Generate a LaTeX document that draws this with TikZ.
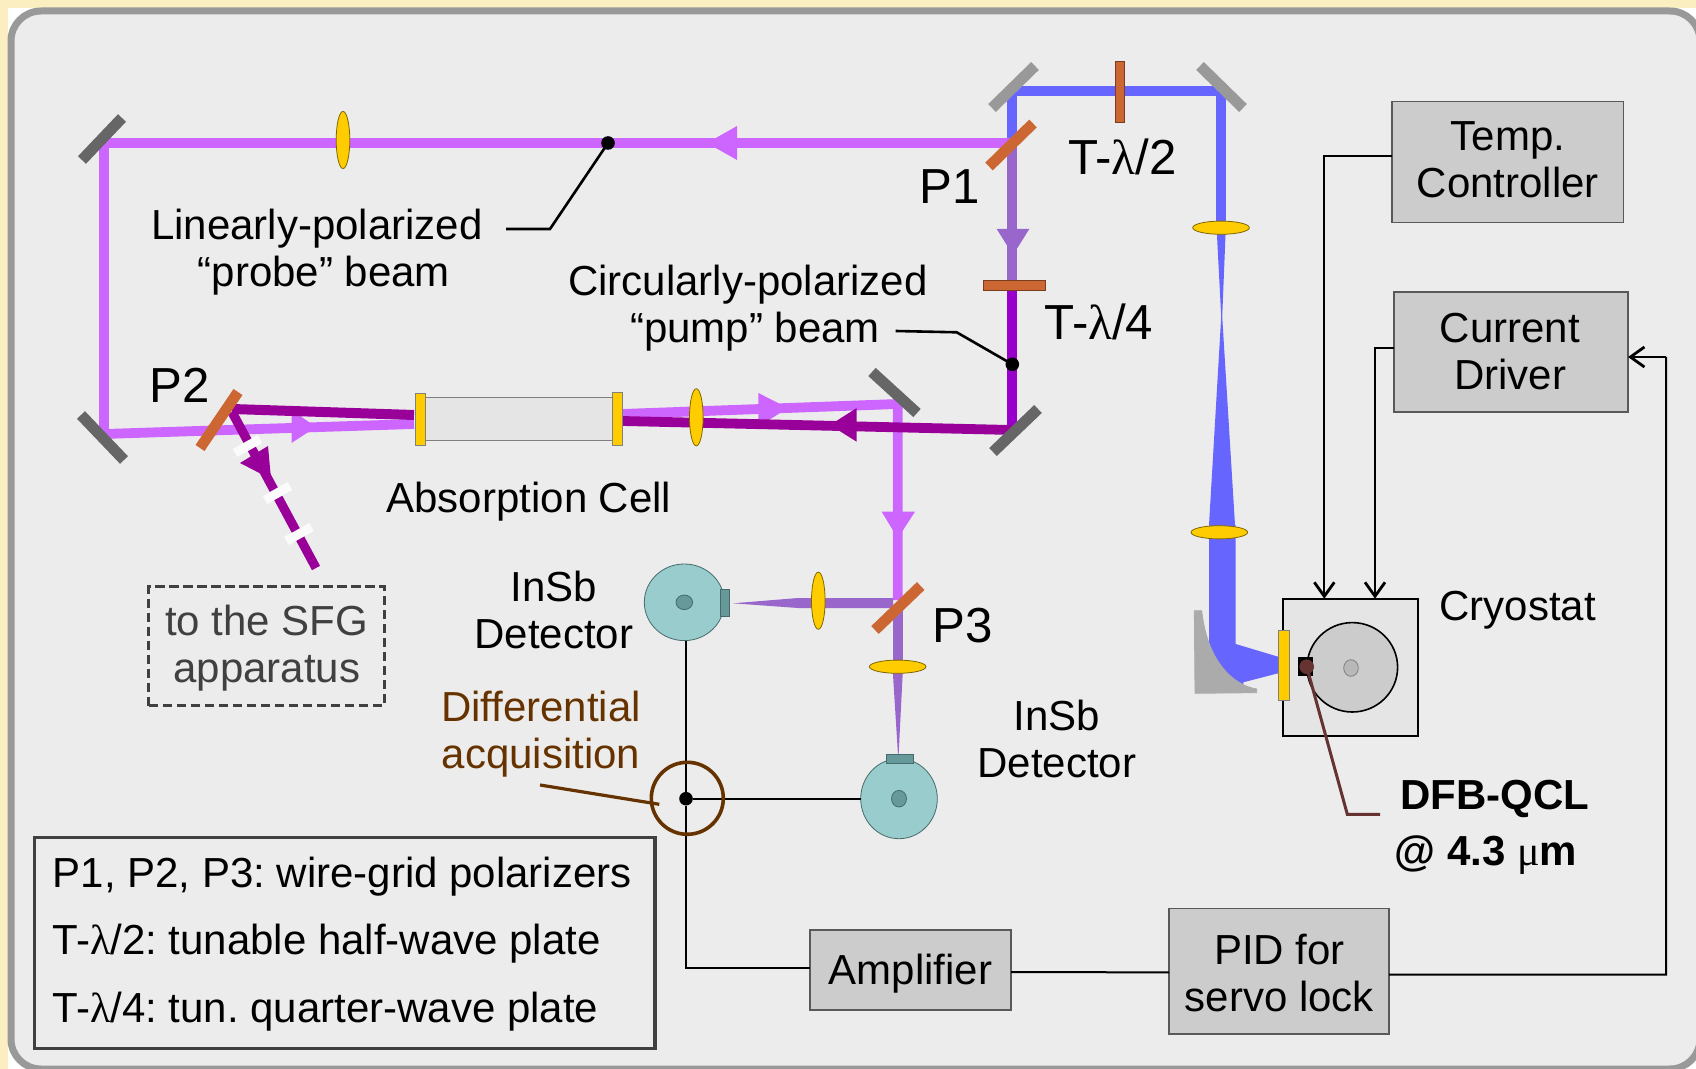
\documentclass[tikz,border=0pt]{standalone}
\usepackage{fontspec}
\usetikzlibrary{arrows.meta,shapes.geometric}
\setmainfont{Liberation Sans}
\newfontfamily\lamfont{Liberation Serif}
\newcommand{\lam}{{\lamfont λ}}
\AtBeginDocument{\frenchspacing}
\definecolor{bgcream}{HTML}{FBEFC2}
\definecolor{panelc}{HTML}{ECECEC}
\definecolor{probe}{HTML}{CC66FF}
\definecolor{pump}{HTML}{990099}
\definecolor{pumpv}{HTML}{9900CC}
\definecolor{mixv}{HTML}{9966CC}
\definecolor{qcl}{HTML}{6666FF}
\definecolor{plate}{HTML}{CC6633}
\definecolor{lensc}{HTML}{FFCC00}
\definecolor{detc}{HTML}{99CCCC}
\definecolor{detd}{HTML}{669999}
\definecolor{brownc}{HTML}{663300}
\definecolor{qclred}{HTML}{663333}
\tikzset{
 x=0.5pt,y=-0.5pt,
 every node/.style={inner sep=0pt,outer sep=0pt,font=\fontsize{21}{23.5}\selectfont},
 lbl/.style={anchor=base,align=center,text=black},
 biglbl/.style={lbl,font=\fontsize{24.6}{27}\selectfont},
 beam/.style={line width=4.9pt,line cap=butt,line join=miter},
 mirrord/.style={line width=5.5pt,draw=black!60},
 mirrorl/.style={line width=5.5pt,draw=black!40},
 polbar/.style={fill=plate,draw=plate!60!black,line width=0.3pt},
 polline/.style={line width=5.4pt,draw=plate},
 lensb/.style={ellipse,fill=lensc,draw=lensc!50!black,line width=0.4pt},
 lensv/.style={lensb,minimum width=6.8pt,minimum height=28.6pt},
 lensh/.style={lensb,minimum width=28.3pt,minimum height=6.6pt},
 gapb/.style={line width=4.6pt,draw=panelc!20!white},
 wire/.style={draw=black,line width=1pt},
 darrow/.style={-{Straight Barb[length=7pt,width=10pt,line width=1.4pt]}},
 box/.style={rectangle,fill=black!20,draw=black!65,line width=0.8pt},
 det/.style={ellipse,fill=detc,draw=detd!70!black,line width=0.4pt},
 detin/.style={fill=detd,draw=detd!70!black,line width=0.4pt},
 leader/.style={draw=black,line width=1.3pt},
 dotn/.style={circle,fill=black,minimum size=6.8pt},
}
\begin{document}
\begin{tikzpicture}
\useasboundingbox (0,0) rectangle (1696,1069);
% background and panel
\fill[bgcream] (0,0) rectangle (1696,1069);
\fill[white] (8,8) rectangle (40,40) (8,1030) rectangle (40,1069) (1660,8) rectangle (1696,40) (1660,1030) rectangle (1696,1069);
\draw[draw=black!40,fill=panelc,line width=3.5pt,rounded corners=15pt] (11,11) rectangle (1700,1069);

% QCL beam (blue)
\fill[qcl] (1209,525) -- (1209,690) -- (1243.3,690) -- (1243.3,682.3) -- (1278,673.3) -- (1298,670) -- (1298,661.7) -- (1278,656.7) -- (1235.7,644) -- (1235.7,525) -- cycle;
\fill[qcl] (1216.7,230) -- (1225.7,230) -- (1222.2,316.7) -- (1235,525) -- (1209,525) -- (1221.2,316.7) -- cycle;
\draw[beam,qcl] (1012,143) -- (1012,91) -- (1221,91) -- (1221,230);
% pump/probe vertical
\draw[beam,mixv] (1012,143) -- (1012,286);
\draw[beam,pumpv] (1012,286) -- (1012,430);
% probe
\draw[beam,probe] (1012,143) -- (104,143) -- (104,434) -- (414,424);
\draw[beam,probe] (622,414) -- (897.7,404) -- (897.7,600);
\fill[probe] (707,143) -- (737,126) -- (737,160) -- cycle;
\fill[probe] (316,427) -- (291.5,410) -- (291.5,443) -- cycle;
\fill[probe] (788,408) -- (758.3,393) -- (758.3,426.7) -- cycle;
\fill[probe] (897.7,538.3) -- (881.7,511.7) -- (915,511.7) -- cycle;
% pump
\draw[beam,pump] (1012,430) -- (622.7,421);
\draw[line width=5pt,pump] (414,415) -- (232,409);
\draw[line width=4.6pt,pump] (232,412) -- (316,568);
\fill[pump] (830,425) -- (856.7,408) -- (856.7,441.7) -- cycle;
\fill[pump] (271,479) -- (240,463) -- (268,446) -- cycle;
\draw[gapb] (235,453) -- (260,439);
\draw[gapb] (265,500) -- (290,486);
\draw[gapb] (286.5,541) -- (311.5,527);
% detector beams
\fill[mixv] (893,598) -- (798,598) -- (733,603.3) -- (798,608) -- (893,608) -- cycle;
\fill[mixv] (892.7,605) -- (902.7,605) -- (902.7,667) -- (892.7,667) -- cycle;
\fill[mixv] (892.5,667) -- (903,667) -- (898.6,755) -- (898,755) -- cycle;
\fill[mixv] (996.7,229) -- (1029.3,229) -- (1013,255) -- cycle;

% mirrors
\draw[mirrord] (82,160) -- (122,118);
\draw[mirrord] (81,415) -- (124,460);
\draw[mirrord] (872,372) -- (917,413);
\draw[mirrord] (993,452) -- (1038,409);
\draw[mirrorl] (992,108) -- (1035,66);
\draw[mirrorl] (1200,66) -- (1243,108);

% plates
\node[polbar,minimum width=4.65pt,minimum height=30.85pt] (half) at (1119.6,91.8) {};
\node[polbar,minimum width=31.2pt,minimum height=5pt] (quarter) at (1014.5,285.7) {};
\draw[polline] (1033,123.5) -- (989,166.5);
\draw[polline] (238,392) -- (200,448);
\draw[polline] (920.7,586) -- (875,630);

% lenses
\node[lensv] (lensA) at (343,140) {};
\node[lensv] (lensB) at (696.3,417.3) {};
\node[lensv] (lensC) at (818.3,600.7) {};
\node[lensh] (lensD) at (897.7,666.7) {};
\node[lensh] (lensE) at (1221,227.7) {};
\node[lensh] (lensF) at (1219.3,532.3) {};

% absorption cell
\node[rectangle,fill=black!10,draw=black!50,line width=0.5pt,minimum width=94.7pt,minimum height=21.15pt] (cell) at (518.3,418.85) {};
\node[rectangle,fill=lensc,draw=black!50,line width=0.3pt,minimum width=5.35pt,minimum height=26pt] (winL) at (420.2,419) {};
\node[rectangle,fill=lensc,draw=black!50,line width=0.3pt,minimum width=5.25pt,minimum height=26.5pt] (winR) at (617.2,419.2) {};

% detectors
\node[det,minimum width=40pt,minimum height=38.3pt] (det1) at (684.3,602.3) {};
\node[ellipse,detin,minimum width=8.3pt,minimum height=7.3pt] (det1c) at (684.3,602.3) {};
\node[rectangle,detin,minimum width=4.5pt,minimum height=13.7pt] (det1w) at (724.8,603) {};
\node[det,minimum width=38.3pt,minimum height=40pt] (det2) at (899,798.7) {};
\node[ellipse,detin,minimum width=7.5pt,minimum height=8.3pt] (det2c) at (899,798.7) {};
\node[rectangle,detin,minimum width=13.5pt,minimum height=4.5pt] (det2w) at (899.8,758.8) {};

% cryostat
\draw[fill=black!33,draw=black!33] (1194.3,610.7) -- (1201.7,610.7) .. controls (1207,660) and (1232,685) .. (1256.7,689) -- (1256.7,692.7) -- (1195,693.3) -- cycle;
\node[rectangle,fill=black!10,draw=black,line width=0.8pt,minimum width=67.65pt,minimum height=68.5pt] (cryo) at (1350.6,667.2) {};
\node[ellipse,fill=black!20,draw=black,line width=0.8pt,minimum width=45.3pt,minimum height=44.7pt] (disc) at (1352.3,667.3) {};
\node[ellipse,fill=black!28,draw=black!50,line width=0.4pt,minimum width=7.3pt,minimum height=8.3pt] (discc) at (1351,668) {};
\node[rectangle,fill=lensc,draw=black!50,line width=0.3pt,minimum width=5.3pt,minimum height=35pt] (winQ) at (1284,665) {};
\node[rectangle,fill=black,minimum width=7.8pt,minimum height=9.65pt] (chip) at (1305.5,666.3) {};
\node[circle,fill=qclred,minimum size=7.3pt] (laser) at (1306.7,666.7) {};
\coordinate (qa) at (1347.3,814.3);
\coordinate (qb) at (1380,814.3);
\draw[draw=qclred,line width=1.5pt] (laser.center) -- (qa) -- (qb);

% electronic boxes
\node[box,minimum width=115.75pt,minimum height=60.5pt] (temp) at (1507.7,162.2) {};
\node[lbl] (ttemp) at (1507.8,197.3) {Temp.\\Controller};
\node[box,minimum width=117pt,minimum height=60pt] (driver) at (1511,352) {};
\node[lbl] (tdriver) at (1510,389) {Current\\Driver};
\node[box,minimum width=100.5pt,minimum height=40pt] (amp) at (910.5,970) {};
\node[lbl] (tamp) at (910.5,984) {Amplifier};
\node[box,minimum width=110pt,minimum height=62.75pt] (pid) at (1279,971.2) {};
\node[lbl] (tpid) at (1279.5,1011.5) {PID for\\servo lock};
\coordinate (fbA) at (1666,974.5);
\coordinate (fbB) at (1666,357);

% wires
\node[dotn] (junction) at (686,798.7) {};
\draw[wire] (junction |- det1.south) -- (junction);
\draw[wire] (junction) -- (det2.west);
\draw[wire] (junction) |- ([yshift=1pt]amp.west);
\draw[wire] ([yshift=-1pt]amp.east) -- ([yshift=-0.6pt]pid.west);
\draw[wire] ([yshift=-1.75pt]pid.east) -- (fbA) -- (fbB);
\draw[wire,darrow] (fbB) -- ([yshift=-2.5pt]driver.east);
\draw[wire,darrow] ([yshift=3.2pt]temp.west) -| ([xshift=-13.15pt]cryo.north);
\draw[wire,darrow] ([yshift=1.85pt]driver.west) -| ([xshift=12.2pt]cryo.north);

% differential circle
\node[circle,draw=brownc,line width=1.8pt,minimum size=36pt] (diffc) at (687.3,798.3) {};
\coordinate (diffl) at (540,785);
\draw[draw=brownc,line width=1.6pt] (diffl) -- (659.3,804.3);

% leaders
\node[dotn] (pdot) at (608,143) {};
\coordinate (pa) at (506,229);
\coordinate (pb) at (550,229);
\draw[leader] (pa) -- (pb) -- (pdot.center);
\node[dotn] (cdot) at (1012.3,364.3) {};
\coordinate (ca) at (895.6,331);
\coordinate (cb) at (956.7,332.3);
\draw[leader] (ca) -- (cb) -- (cdot.center);

% labels
\node[lbl] (tprobe) at (317,286.5) {Linearly-polarized\\\hspace*{7pt}“probe” beam};
\node[lbl] (tpump) at (748,343) {Circularly-polarized\\\hspace*{7pt}“pump” beam};
\node[biglbl] (tP1) at (950,204) {P1};
\node[biglbl] (tP2) at (180,402.7) {P2};
\node[biglbl] (tP3) at (963,642.7) {P3};
\node[biglbl] (thalf) at (1122.5,175) {T-\lam/2};
\node[biglbl] (tquart) at (1099,340) {T-\lam/4};
\node[lbl] (tcell) at (529,512) {Absorption Cell};
\node[lbl] (tdet1) at (553.7,648) {InSb\\Detector};
\node[lbl] (tdet2) at (1056.7,777.7) {InSb\\Detector};
\node[lbl,text=brownc] (tdiff) at (541,768) {Differential\\acquisition};
\node[lbl] (tcryo) at (1517.6,620) {Cryostat};
\node[lbl,font=\fontsize{21}{23.5}\selectfont\bfseries] (tdfb) at (1495,809) {DFB-QCL};
\node[lbl,font=\fontsize{21}{23.5}\selectfont\bfseries] (tat) at (1486,865) {@ 4.3 {\lamfont\mdseries μ}m};
\node[rectangle,draw=black!75,line width=1.5pt,dash pattern=on 4.6pt off 2.4pt,minimum width=117.6pt,minimum height=59.65pt] (sfg) at (266.4,646.3) {};
\node[lbl,text=black!75] (tsfg) at (266.7,682) {to the SFG\\apparatus};

% legend
\node[rectangle,draw=black!75,line width=1.75pt,minimum width=310.3pt,minimum height=105.5pt] (legend) at (344.7,942.8) {};
\node[anchor=base west,font=\fontsize{21}{33.7}\selectfont,align=left] (legendt) at (52.7,1022) {P1, P2, P3: wire-grid polarizers\\T-\lam/2: tunable half-wave plate\\T-\lam/4: tun. quarter-wave plate};
\end{tikzpicture}
\end{document}
